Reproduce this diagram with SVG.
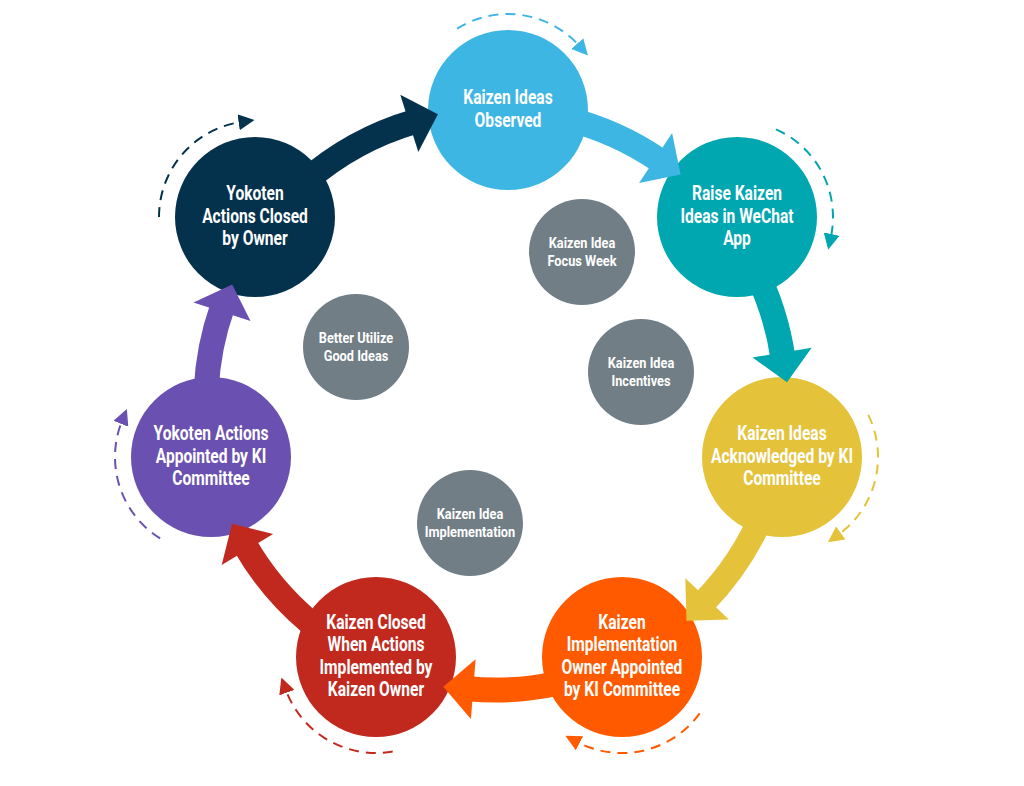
<svg xmlns="http://www.w3.org/2000/svg" width="1024" height="786" viewBox="0 0 1024 786">
<style>
.lbl{font-family:Roboto,"Liberation Sans",sans-serif;font-weight:700;font-size:19.5px;fill:#fff;text-anchor:middle}
.ilbl{font-family:Roboto,"Liberation Sans",sans-serif;font-weight:700;font-size:14.5px;fill:#fff;text-anchor:middle}
.inner{fill:#717E85}
.band{fill:none;stroke-width:25}
.dash{fill:none;stroke-width:2;stroke-dasharray:10 7}
</style>
<defs>
<marker id="m1" markerUnits="userSpaceOnUse" markerWidth="16" markerHeight="16" viewBox="0 0 16 16" refX="3" refY="8" orient="auto"><path d="M0,0 L16,8 L0,16 z" fill="#3EB6E3"/></marker>
<marker id="m2" markerUnits="userSpaceOnUse" markerWidth="16" markerHeight="16" viewBox="0 0 16 16" refX="3" refY="8" orient="auto"><path d="M0,0 L16,8 L0,16 z" fill="#00A6B0"/></marker>
<marker id="m3" markerUnits="userSpaceOnUse" markerWidth="16" markerHeight="16" viewBox="0 0 16 16" refX="3" refY="8" orient="auto"><path d="M0,0 L16,8 L0,16 z" fill="#E4C23A"/></marker>
<marker id="m4" markerUnits="userSpaceOnUse" markerWidth="16" markerHeight="16" viewBox="0 0 16 16" refX="3" refY="8" orient="auto"><path d="M0,0 L16,8 L0,16 z" fill="#FF5A00"/></marker>
<marker id="m5" markerUnits="userSpaceOnUse" markerWidth="16" markerHeight="16" viewBox="0 0 16 16" refX="3" refY="8" orient="auto"><path d="M0,0 L16,8 L0,16 z" fill="#C1291F"/></marker>
<marker id="m6" markerUnits="userSpaceOnUse" markerWidth="16" markerHeight="16" viewBox="0 0 16 16" refX="3" refY="8" orient="auto"><path d="M0,0 L16,8 L0,16 z" fill="#6A50B0"/></marker>
<marker id="m7" markerUnits="userSpaceOnUse" markerWidth="16" markerHeight="16" viewBox="0 0 16 16" refX="3" refY="8" orient="auto"><path d="M0,0 L16,8 L0,16 z" fill="#04324D"/></marker>
</defs>
<rect width="1024" height="786" fill="#fff"/>

<g id="n1"><circle cx="508" cy="110" r="80" fill="#3EB6E3"/>
<text class="lbl" transform="translate(508 110) scale(0.8 1)"><tspan x="0" y="-5.65">Kaizen Ideas</tspan><tspan x="0" y="16.65">Observed</tspan></text></g>
<g id="n2"><circle cx="737" cy="217" r="80" fill="#00A6B0"/>
<text class="lbl" transform="translate(737 217) scale(0.8 1)"><tspan x="0" y="-16.8">Raise Kaizen</tspan><tspan x="0" y="5.5">Ideas in WeChat</tspan><tspan x="0" y="27.8">App</tspan></text></g>
<g id="n3"><circle cx="782" cy="457" r="80" fill="#E4C23A"/>
<text class="lbl" transform="translate(782 457) scale(0.8 1)"><tspan x="0" y="-16.8">Kaizen Ideas</tspan><tspan x="0" y="5.5">Acknowledged by KI</tspan><tspan x="0" y="27.8">Committee</tspan></text></g>
<g id="n4"><circle cx="622" cy="657" r="80" fill="#FF5A00"/>
<text class="lbl" transform="translate(622 657) scale(0.8 1)"><tspan x="0" y="-27.95">Kaizen</tspan><tspan x="0" y="-5.65">Implementation</tspan><tspan x="0" y="16.65">Owner Appointed</tspan><tspan x="0" y="38.95">by KI Committee</tspan></text></g>
<g id="n5"><circle cx="376" cy="657" r="80" fill="#C1291F"/>
<text class="lbl" transform="translate(376 657) scale(0.8 1)"><tspan x="0" y="-27.95">Kaizen Closed</tspan><tspan x="0" y="-5.65">When Actions</tspan><tspan x="0" y="16.65">Implemented by</tspan><tspan x="0" y="38.95">Kaizen Owner</tspan></text></g>
<g id="n6"><circle cx="211" cy="457" r="80" fill="#6A50B0"/>
<text class="lbl" transform="translate(211 457) scale(0.8 1)"><tspan x="0" y="-16.8">Yokoten Actions</tspan><tspan x="0" y="5.5">Appointed by KI</tspan><tspan x="0" y="27.8">Committee</tspan></text></g>
<g id="n7"><circle cx="255" cy="217" r="80" fill="#04324D"/>
<text class="lbl" transform="translate(255 217) scale(0.8 1)"><tspan x="0" y="-16.8">Yokoten</tspan><tspan x="0" y="5.5">Actions Closed</tspan><tspan x="0" y="27.8">by Owner</tspan></text></g>

<g id="i1"><circle class="inner" cx="582" cy="252" r="53"/>
<text class="ilbl" transform="translate(582 252) scale(0.88 1)"><tspan x="0" y="-4.5">Kaizen Idea</tspan><tspan x="0" y="13.5">Focus Week</tspan></text></g>
<g id="i2"><circle class="inner" cx="641" cy="372" r="53"/>
<text class="ilbl" transform="translate(641 372) scale(0.88 1)"><tspan x="0" y="-4.5">Kaizen Idea</tspan><tspan x="0" y="13.5">Incentives</tspan></text></g>
<g id="i3"><circle class="inner" cx="356" cy="347" r="53"/>
<text class="ilbl" transform="translate(356 347) scale(0.88 1)"><tspan x="0" y="-4.5">Better Utilize</tspan><tspan x="0" y="13.5">Good Ideas</tspan></text></g>
<g id="i4"><circle class="inner" cx="470" cy="523" r="53"/>
<text class="ilbl" transform="translate(470 523) scale(0.88 1)"><tspan x="0" y="-4.5">Kaizen Idea</tspan><tspan x="0" y="13.5">Implementation</tspan></text></g>

<g id="connectors">
<path class="band" stroke="#04324D" d="M305.7 181.1 A290 290 0 0 1 414.1 121.8"/>
<polygon fill="#04324D" points="400.3,94.7 437.9,114.3 418.3,151.9"/>
<path class="band" stroke="#3EB6E3" d="M566.2 118.6 A290 290 0 0 1 659.9 160.7"/>
<polygon fill="#3EB6E3" points="672.1,132.9 680.6,174.4 639.1,182.9"/>
<path class="band" stroke="#00A6B0" d="M754.4 268.3 A290 290 0 0 1 782.9 357.6"/>
<polygon fill="#00A6B0" points="811.7,347.7 787.0,382.2 752.5,357.5"/>
<path class="band" stroke="#E4C23A" d="M764.9 508.6 A290 290 0 0 1 703.6 602.5"/>
<polygon fill="#E4C23A" points="728.9,619.5 686.5,620.7 685.3,578.3"/>
<path class="band" stroke="#FF5A00" d="M556.3 683.6 A290 290 0 0 1 468.2 688.7"/>
<polygon fill="#FF5A00" points="470.9,719.0 443.3,686.7 475.6,659.2"/>
<path class="band" stroke="#C1291F" d="M309.6 622.2 A290 290 0 0 1 244.9 545.0"/>
<polygon fill="#C1291F" points="221.7,564.9 232.0,523.7 273.1,533.9"/>
<path class="band" stroke="#6A50B0" d="M206.2 389.9 A290 290 0 0 1 222.5 306.6"/>
<polygon fill="#6A50B0" points="193.5,302.5 232.2,284.4 250.5,321.1"/>

<path class="dash" stroke="#3EB6E3" marker-end="url(#m1)" d="M457.1 28.6 A96 96 0 0 1 579.3 45.8"/>
<path class="dash" stroke="#00A6B0" marker-end="url(#m2)" d="M776.0 129.3 A96 96 0 0 1 830.9 237.0"/>
<path class="dash" stroke="#E4C23A" marker-end="url(#m3)" d="M868.3 414.9 A96 96 0 0 1 838.4 534.7"/>
<path class="dash" stroke="#FF5A00" marker-end="url(#m4)" d="M699.7 713.4 A96 96 0 0 1 576.9 741.8"/>
<path class="dash" stroke="#C1291F" marker-end="url(#m5)" d="M392.7 751.5 A96 96 0 0 1 285.8 689.8"/>
<path class="dash" stroke="#6A50B0" marker-end="url(#m6)" d="M160.1 538.4 A96 96 0 0 1 122.0 421.0"/>
<path class="dash" stroke="#04324D" marker-end="url(#m7)" d="M159 217 A96 96 0 0 1 241.6 121.9"/>
</g>
</svg>
